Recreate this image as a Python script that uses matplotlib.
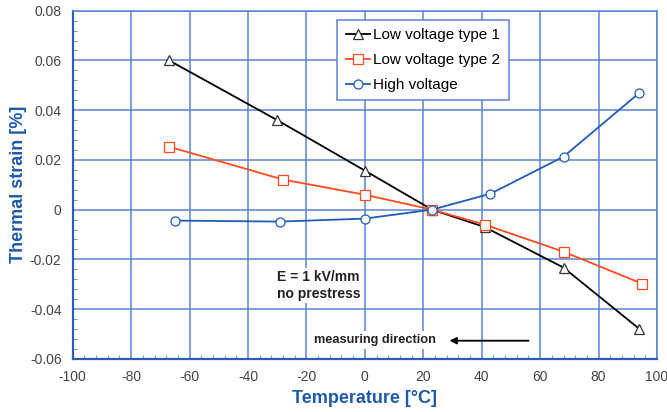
import matplotlib.pyplot as plt
from matplotlib.ticker import MultipleLocator

plt.rcParams['font.family'] = ['Liberation Sans', 'DejaVu Sans']
plt.rcParams['axes.unicode_minus'] = False

# data
t_lv1 = [-67, -30, 0, 23, 41, 68, 94]
s_lv1 = [0.060, 0.036, 0.0157, 0.0, -0.007, -0.0233, -0.048]

t_lv2 = [-67, -28, 0, 23, 41, 68, 95]
s_lv2 = [0.0253, 0.0121, 0.006, 0.0, -0.006, -0.0169, -0.0298]

t_hv = [-65, -29, 0, 23, 43, 68, 94]
s_hv = [-0.0044, -0.0048, -0.0036, 0.0, 0.0064, 0.0213, 0.047]

grid_c = '#5A82D2'
label_c = '#1F5BAA'

fig = plt.figure(figsize=(6.67, 4.12), dpi=100)
ax = fig.add_axes([0.109, 0.129, 0.876, 0.845])

ax.plot(t_lv1, s_lv1, color='black', lw=1.3, marker='^', ms=7, mfc='white', mec='#333333',
        mew=0.9, label='Low voltage type 1', zorder=4)
ax.plot(t_lv2, s_lv2, color='#FF4A1C', lw=1.3, marker='s', ms=6.5, mfc='white', mec='#FF4A1C',
        mew=0.9, label='Low voltage type 2', zorder=4)
ax.plot(t_hv, s_hv, color='#1F5BB8', lw=1.3, marker='o', ms=6.5, mfc='white', mec='#1F5BB8',
        mew=0.9, label='High voltage', zorder=4)

ax.set_xlim(-100, 100)
ax.set_ylim(-0.06, 0.08)
ax.xaxis.set_major_locator(MultipleLocator(20))
ax.xaxis.set_minor_locator(MultipleLocator(4))
ax.yaxis.set_minor_locator(MultipleLocator(0.004))
yt = [-0.06, -0.04, -0.02, 0, 0.02, 0.04, 0.06, 0.08]
ax.set_yticks(yt)
ax.set_yticklabels(['0' if v == 0 else '%.2f' % v for v in yt])

ax.grid(True, which='major', color=grid_c, lw=1.1)
ax.tick_params(which='both', direction='in', colors=grid_c, labelcolor='#444444', labelsize=10)
ax.tick_params(which='major', length=0, pad=8)
ax.tick_params(which='minor', length=3)
for side in ['top', 'right']:
    ax.spines[side].set_color(grid_c)
    ax.spines[side].set_linewidth(1.1)
for side in ['left', 'bottom']:
    ax.spines[side].set_color('#2C5DB8')
    ax.spines[side].set_linewidth(1.6)

ax.set_xlabel('Temperature [°C]', color=label_c, fontsize=13, fontweight='bold', labelpad=4)
ax.set_ylabel('Thermal strain [%]', color=label_c, fontsize=13, fontweight='bold', labelpad=2)

leg = ax.legend(loc='upper left', bbox_to_anchor=(0.44, 0.995), fontsize=11, frameon=True,
                fancybox=False, edgecolor=grid_c, handlelength=1.6, handletextpad=0.2,
                borderpad=0.55, labelspacing=0.7, framealpha=1)
leg.get_frame().set_linewidth(1.1)
leg.set_zorder(5)

ax.text(-30, -0.0305, 'E = 1 kV/mm\nno prestress', fontsize=10, fontweight='bold', color='#222222',
        va='center', ha='left', linespacing=1.2,
        bbox=dict(facecolor='white', edgecolor='none', pad=2))
ax.text(-17.5, -0.0525, 'measuring direction', fontsize=9.2, fontweight='bold', color='#222222',
        va='center', ha='left', bbox=dict(facecolor='white', edgecolor='none', pad=2))
ax.annotate('', xy=(28, -0.0527), xytext=(57, -0.0527),
            arrowprops=dict(arrowstyle='-|>', color='black', lw=1.3, mutation_scale=10))

fig.savefig('out.png', dpi=100)
